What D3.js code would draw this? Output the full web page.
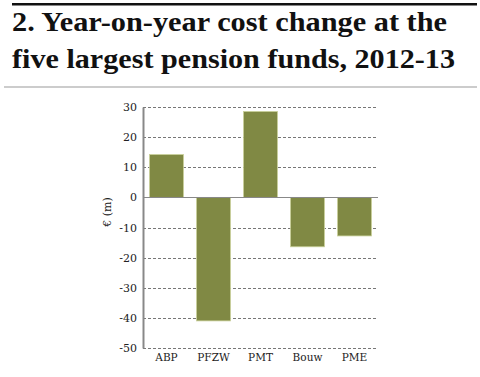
<!DOCTYPE html>
<html>
<head>
<meta charset="utf-8">
<script src="https://cdn.jsdelivr.net/npm/d3@7"></script>
<style>
  body { margin: 0; background: #fff; }
  svg { display: block; }
</style>
</head>
<body>
<div id="chart"></div>
<script>
// Data
const funds = ["ABP", "PFZW", "PMT", "Bouw", "PME"];
const costChange = [14.2, -41.0, 28.5, -16.4, -12.8];
const yTicks = [30, 20, 10, 0, -10, -20, -30, -40, -50];
const titleLines = ["2. Year-on-year cost change at the", "five largest pension funds, 2012-13"];
const titleWidths = [435, 443];

const W = 480, H = 377;
const svg = d3.select("#chart").append("svg").attr("width", W).attr("height", H);

// header rules + title
svg.append("rect").attr("x", 12).attr("y", 3).attr("width", 465).attr("height", 2.5).attr("fill", "#111");
svg.append("rect").attr("x", 4).attr("y", 86.5).attr("width", 473).attr("height", 1).attr("fill", "#999");

svg.selectAll(".title")
  .data(titleLines)
  .enter()
  .append("text")
  .attr("class", "title")
  .attr("x", 12)
  .attr("y", (d, i) => 31 + i * 37)
  .attr("font-family", "Liberation Serif")
  .attr("font-weight", "bold")
  .attr("font-size", 28)
  .attr("fill", "#111")
  .attr("textLength", (d, i) => titleWidths[i])
  .attr("lengthAdjust", "spacingAndGlyphs")
  .text((d) => d);

// plot area
const plotL = 143, plotR = 378, plotT = 107, plotB = 348;

const x = d3.scaleBand().domain(funds).range([plotL, plotR]).paddingInner(0.28).paddingOuter(0.14);
const y = d3.scaleLinear().domain([-50, 30]).range([plotB, plotT]);

// grid lines
svg.append("g")
  .selectAll("line")
  .data(yTicks.filter((t) => t !== 0))
  .enter()
  .append("line")
  .attr("x1", plotL)
  .attr("x2", plotR)
  .attr("y1", (d) => Math.round(y(d)) + 0.5)
  .attr("y2", (d) => Math.round(y(d)) + 0.5)
  .attr("stroke", "#777")
  .attr("stroke-width", 1)
  .attr("stroke-dasharray", "3,2");

// bars
svg.append("g")
  .selectAll("rect")
  .data(funds)
  .enter()
  .append("rect")
  .attr("x", (d) => x(d))
  .attr("width", x.bandwidth())
  .attr("y", (d, i) => y(Math.max(0, costChange[i])))
  .attr("height", (d, i) => Math.abs(y(costChange[i]) - y(0)))
  .attr("fill", "#808944")
  .attr("stroke", "#c8cf98")
  .attr("stroke-width", 0.8);

// zero line
svg.append("line")
  .attr("x1", plotL).attr("x2", plotR)
  .attr("y1", Math.round(y(0)) + 0.5).attr("y2", Math.round(y(0)) + 0.5)
  .attr("stroke", "#888").attr("stroke-width", 1);

// y axis
const yAxis = svg.append("g")
  .attr("transform", `translate(${plotL},0)`)
  .call(d3.axisLeft(y).tickValues(yTicks).tickSize(0).tickPadding(6).tickFormat((d) => String(d)));
yAxis.select(".domain").attr("stroke", "#888").attr("stroke-width", 2);
yAxis.selectAll("text")
  .attr("font-family", "DejaVu Serif")
  .attr("font-size", 11)
  .attr("fill", "#222");

// x axis labels
const xAxis = svg.append("g")
  .attr("transform", `translate(0,${plotB})`)
  .call(d3.axisBottom(x).tickSize(0).tickPadding(6));
xAxis.select(".domain").remove();
xAxis.selectAll("text")
  .attr("font-family", "DejaVu Serif")
  .attr("font-size", 10.5)
  .attr("fill", "#222");

// y label
svg.append("text")
  .attr("transform", `translate(111,212) rotate(-90)`)
  .attr("text-anchor", "middle")
  .attr("font-family", "DejaVu Serif")
  .attr("font-size", 11)
  .attr("fill", "#222")
  .text("€ (m)");
</script>
</body>
</html>
